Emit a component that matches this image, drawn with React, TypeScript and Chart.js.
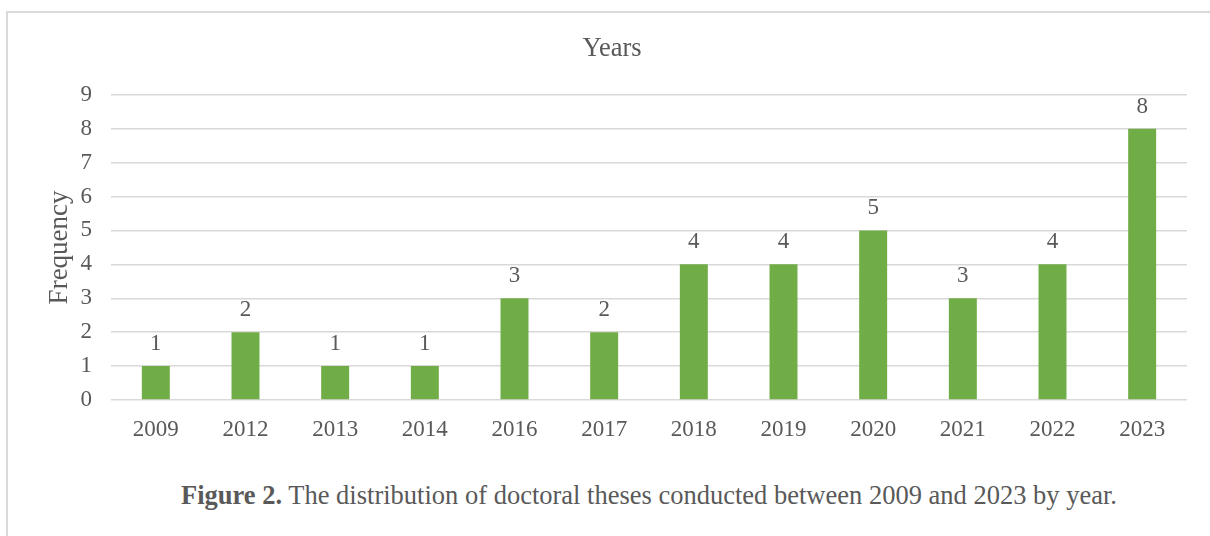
import React, { useEffect, useRef } from "react";
import { Chart, registerables } from "chart.js";

Chart.register(...registerables);

const years = ["2009", "2012", "2013", "2014", "2016", "2017", "2018", "2019", "2020", "2021", "2022", "2023"];
const frequency = [1, 2, 1, 1, 3, 2, 4, 4, 5, 3, 4, 8];
const yTicks = [0, 1, 2, 3, 4, 5, 6, 7, 8, 9];

const TEXT = "#595959";
const GRID = "#d9d9d9";
const GREEN = "#70ad47";
const SERIF = "'Liberation Serif', 'Times New Roman', serif";

// Writes each bar's value just above its top
const valueLabels = {
  id: "valueLabels",
  afterDatasetsDraw(chart: any) {
    const ctx = chart.ctx;
    const meta = chart.getDatasetMeta(0);
    ctx.save();
    ctx.font = `23px ${SERIF}`;
    ctx.fillStyle = TEXT;
    ctx.textAlign = "center";
    ctx.textBaseline = "alphabetic";
    meta.data.forEach((bar: any, i: number) => {
      ctx.fillText(String(frequency[i]), bar.x, bar.y - 16);
    });
    ctx.restore();
  },
};

export default function App() {
  const canvasRef = useRef<HTMLCanvasElement>(null);

  useEffect(() => {
    if (!canvasRef.current) return;
    const chart = new Chart(canvasRef.current, {
      type: "bar",
      data: {
        labels: years,
        datasets: [
          {
            data: frequency,
            backgroundColor: GREEN,
            barPercentage: 0.312,
            categoryPercentage: 1,
          },
        ],
      },
      options: {
        animation: false,
        responsive: false,
        maintainAspectRatio: false,
        layout: { padding: { left: 29, right: 23, top: 0, bottom: 0 } },
        plugins: {
          legend: { display: false },
          tooltip: { enabled: false },
          title: {
            display: true,
            text: "Years",
            color: TEXT,
            font: { family: SERIF, size: 26.5, weight: "normal" },
            padding: { top: 20, bottom: 30 },
          },
        },
        scales: {
          x: {
            grid: { display: false },
            border: { display: false },
            ticks: {
              color: TEXT,
              font: { family: SERIF, size: 23 },
              padding: 8,
              maxRotation: 0,
            },
            afterFit(scale: any) {
              scale.height = 63;
            },
          },
          y: {
            min: 0,
            max: 9,
            afterBuildTicks(scale: any) {
              scale.ticks = yTicks.map((v) => ({ value: v }));
            },
            grid: { color: GRID, lineWidth: 1.5, drawTicks: false },
            border: { display: false },
            ticks: {
              color: TEXT,
              font: { family: SERIF, size: 23 },
              padding: 19,
            },
            title: {
              display: true,
              text: "Frequency",
              color: TEXT,
              font: { family: SERIF, size: 27 },
              padding: { top: 7, bottom: 0 },
            },
            afterFit(scale: any) {
              scale.width = 74;
            },
          },
        },
      },
      plugins: [valueLabels],
    });
    return () => chart.destroy();
  }, []);

  return (
    <div
      style={{
        position: "absolute",
        left: 6,
        top: 11,
        width: 1204,
        height: 525,
        borderLeft: `2px solid ${GRID}`,
        borderTop: `2px solid ${GRID}`,
        background: "#fff",
      }}
    >
      <canvas ref={canvasRef} width={1202} height={450} style={{ display: "block" }} />
      <div
        style={{
          position: "absolute",
          left: 103,
          width: 1076,
          top: 467,
          textAlign: "center",
          fontFamily: SERIF,
          fontSize: 26.5,
          lineHeight: "30px",
          color: TEXT,
          whiteSpace: "nowrap",
        }}
      >
        <b>Figure 2.</b> The distribution of doctoral theses conducted between 2009 and 2023 by year.
      </div>
    </div>
  );
}
